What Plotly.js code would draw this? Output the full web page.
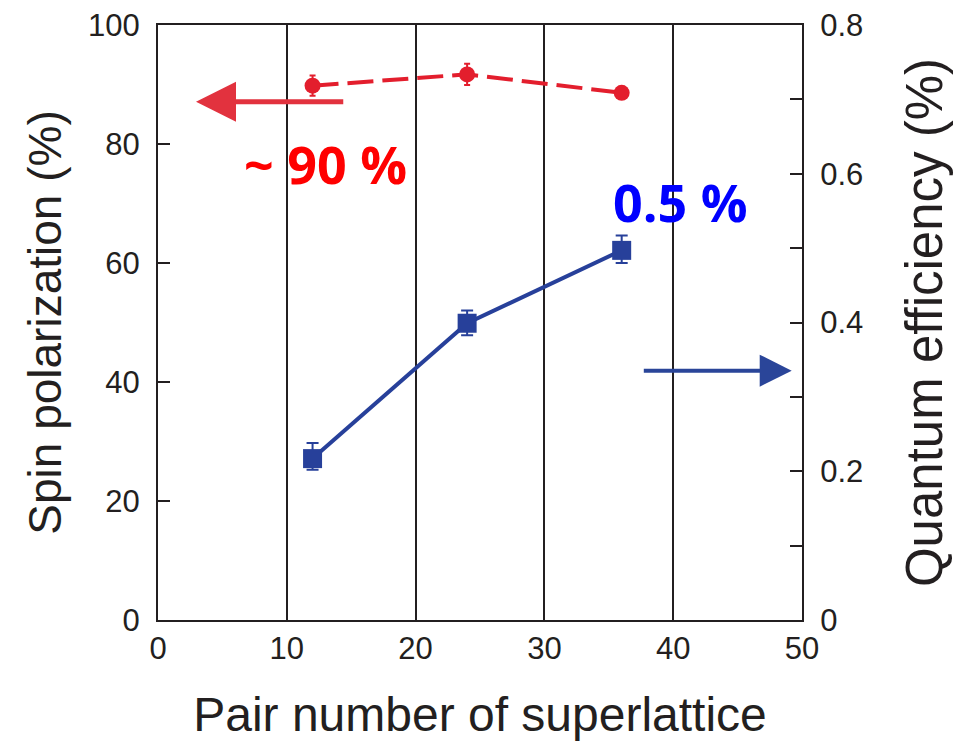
<!DOCTYPE html>
<html>
<head>
<meta charset="utf-8">
<script src="https://cdn.plot.ly/plotly-3.0.1.min.js"></script>
<style>html,body{margin:0;padding:0;background:#fff;}#chart{width:967px;height:741px;}</style>
</head>
<body>
<div id="chart"></div>
<script>
// Data
const pairNumbers = [12, 24, 36];
const spinPolarization = [89.8, 91.7, 88.6];
const spinErr = [1.7, 1.8, 0.6];
const quantumEfficiency = [0.217, 0.399, 0.497];
const qeErrPlus = [0.021, 0.017, 0.020];
const qeErrMinus = [0.015, 0.016, 0.017];
const xTicks = [0, 10, 20, 30, 40, 50];
const yTicks = [0, 20, 40, 60, 80, 100];
const y2Ticks = [0, 0.1, 0.2, 0.3, 0.4, 0.5, 0.6, 0.7, 0.8];
const y2TickText = ['0', '', '0.2', '', '0.4', '', '0.6', '', '0.8'];

const axisColor = '#231f20';
const red = '#e31e2d';
const blue = '#27409a';
const fontFam = 'Liberation Sans, Arial, sans-serif';

const traces = [
  {
    x: pairNumbers, y: spinPolarization, type: 'scatter', mode: 'lines+markers',
    line: {color: red, width: 4, dash: '26px,9px'},
    marker: {color: red, size: 16, symbol: 'circle'},
    error_y: {type: 'data', array: spinErr, visible: true, color: red, thickness: 2, width: 3},
    yaxis: 'y', showlegend: false
  },
  {
    x: pairNumbers, y: quantumEfficiency, type: 'scatter', mode: 'lines+markers',
    line: {color: blue, width: 4},
    marker: {color: blue, size: 19, symbol: 'square'},
    error_y: {type: 'data', array: qeErrPlus, arrayminus: qeErrMinus, visible: true, color: blue, thickness: 2, width: 6},
    yaxis: 'y2', showlegend: false
  }
];

const layout = {
  width: 967, height: 741,
  paper_bgcolor: '#fff', plot_bgcolor: '#fff',
  margin: {l: 158, r: 165, t: 25, b: 121},
  font: {family: fontFam, color: axisColor},
  xaxis: {
    range: [0, 50], tickvals: xTicks, ticktext: xTicks.map(String),
    showgrid: true, gridcolor: axisColor, gridwidth: 2,
    showline: true, linecolor: axisColor, linewidth: 2, mirror: true,
    ticks: '', zeroline: false,
    tickfont: {size: 31, color: axisColor, family: fontFam},
    title: {text: 'Pair number of superlattice', font: {size: 48, color: axisColor, family: fontFam}, standoff: 34}
  },
  yaxis: {
    range: [0, 100], tickvals: yTicks, ticktext: yTicks.map(String),
    showgrid: false, zeroline: false,
    showline: true, linecolor: axisColor, linewidth: 2,
    ticks: 'inside', ticklen: 12, tickwidth: 2, tickcolor: axisColor,
    ticklabelstandoff: 10,
    tickfont: {size: 31, color: axisColor, family: fontFam},
    title: {text: 'Spin polarization (%)', font: {size: 46, color: axisColor, family: fontFam}, standoff: 12}
  },
  yaxis2: {
    range: [0, 0.8], tickvals: y2Ticks, ticktext: y2TickText,
    overlaying: 'y', side: 'right',
    showgrid: false, zeroline: false,
    showline: true, linecolor: axisColor, linewidth: 2,
    ticks: 'inside', ticklen: 12, tickwidth: 2, tickcolor: axisColor,
    ticklabelstandoff: 10,
    tickfont: {size: 31, color: axisColor, family: fontFam},
    title: {text: 'Quantum efficiency (%)', font: {size: 51, color: axisColor, family: fontFam}, standoff: 44}
  },
  annotations: [
    {x: 2.95, y: 87.1, xref: 'x', yref: 'y', ax: 14.5, ay: 87.1, axref: 'x', ayref: 'y',
     showarrow: true, arrowhead: 2, arrowsize: 1.6, arrowwidth: 5, arrowcolor: '#e2323e', text: ''},
    {x: 49.2, y: 41.9, xref: 'x', yref: 'y', ax: 37.6, ay: 41.9, axref: 'x', ayref: 'y',
     showarrow: true, arrowhead: 2, arrowsize: 1.6, arrowwidth: 4, arrowcolor: '#2a4599', text: ''},
    {x: 13.0, y: 76.7, xref: 'x', yref: 'y', showarrow: false, text: '~ 90 %',
     font: {family: 'Open Sans, sans-serif', size: 52, color: '#ff0000', weight: 'bold'}},
    {x: 40.6, y: 70.4, xref: 'x', yref: 'y', showarrow: false, text: '0.5 %',
     font: {family: 'Open Sans, sans-serif', size: 52, color: '#0000ff', weight: 'bold'}}
  ]
};

Plotly.newPlot('chart', traces, layout, {displayModeBar: false, staticPlot: true});
</script>
</body>
</html>
